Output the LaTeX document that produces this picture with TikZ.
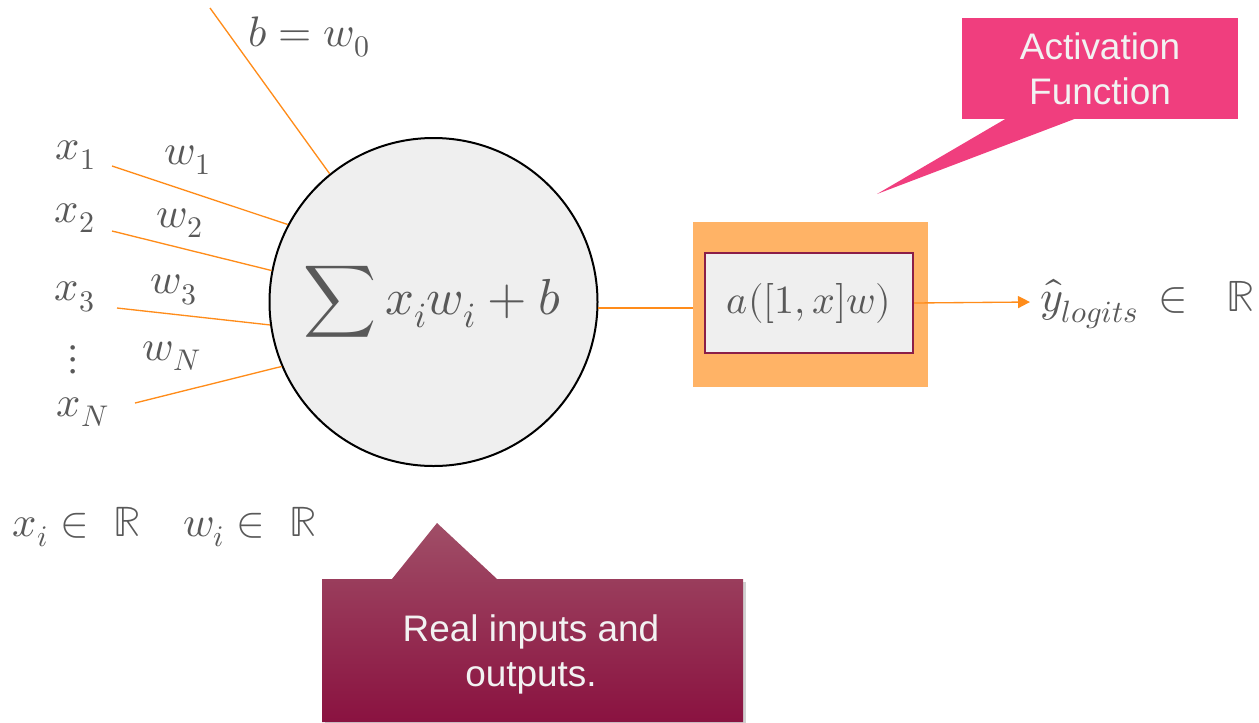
\documentclass[tikz,border=0pt]{standalone}
\usepackage{fontspec}
\usepackage{amsmath}
\usepackage{unicode-math}
\setmathfont{Latin Modern Math}
\usetikzlibrary{arrows.meta,calc}
\newfontfamily\calloutfont{Liberation Sans}
\definecolor{txtgray}{HTML}{595959}
\definecolor{wire}{HTML}{FF8C1A}
\definecolor{boxorange}{HTML}{FFB366}
\definecolor{boxgray}{HTML}{EFEFEF}
\definecolor{boxedge}{HTML}{8B1E48}
\definecolor{callpink}{HTML}{F03E7E}
\definecolor{maroontop}{HTML}{A04E67}
\definecolor{maroonbot}{HTML}{8A1240}
\definecolor{calltext}{HTML}{F2F2F2}
\begin{document}
\begin{tikzpicture}[x=0.75pt,y=-0.75pt,
  lbl/.style={text=txtgray,font=\fontsize{32}{38}\selectfont,inner sep=0pt},
  wireline/.style={draw=wire,line width=1pt},
  calltxt/.style={text=calltext,font=\calloutfont\fontsize{27.7}{33.75}\selectfont,align=center,inner sep=0pt}]
\useasboundingbox (0,0) rectangle (1259,722);

% neuron
\node[circle,draw=black,line width=1.5pt,fill=boxgray,minimum size=246pt,inner sep=0pt] (neuron) at (433.5,302) {};
\node[lbl,font=\fontsize{38}{44}\selectfont] (sum) at (432,302) {$\displaystyle\sum x_i w_i + b$};

% labels
\node[lbl] (b0) at (309,37) {$b = w_0$};
\node[lbl] (x1) at (76,155) {$x_1$};
\node[lbl] (w1) at (188,160) {$w_1$};
\node[lbl] (x2) at (75,218) {$x_2$};
\node[lbl] (w2) at (180,223) {$w_2$};
\node[lbl] (x3) at (75,297) {$x_3$};
\node[lbl] (w3) at (174,290) {$w_3$};
\node[lbl] (dots) at (73,360) {$\vdots$};
\node[lbl] (wN) at (172,356) {$w_N$};
\node[lbl] (xN) at (83,412) {$x_N$};
\node[lbl] (domain) at (165,527) {$x_i \in\ \mathbb{R}\quad w_i \in\ \mathbb{R}$};

% input wires
\coordinate (bstart) at (210,8);
\coordinate (x1start) at (112,166);
\coordinate (x2start) at (112,231);
\coordinate (x3start) at (117,308);
\coordinate (xNstart) at (135,403);
\draw[wireline] (bstart) -- (neuron.129);
\draw[wireline] (x1start) -- (neuron.152);
\draw[wireline] (x2start) -- (neuron.169);
\draw[wireline] (x3start) -- (neuron.188);
\draw[wireline] (xNstart) -- (neuron.203);

% activation boxes
\node[fill=boxorange,minimum width=176pt,minimum height=124pt,inner sep=0pt] (outer) at (810.5,304.5) {};
\node[fill=boxgray,draw=boxedge,line width=1.5pt,minimum width=156pt,minimum height=75pt,inner sep=0pt,
      text=txtgray,font=\fontsize{30}{36}\selectfont] (inner) at (809,303) {$a([1,x]w)$};
\coordinate (outin) at (neuron.358 -| outer.west);
\draw[draw=wire,line width=1.3pt] (neuron.358) -- (outin);

% output
\coordinate (yend) at (1030,302);
\draw[wireline,-{Triangle[length=9pt,width=9pt]}] (inner.east) -- (yend);
\node[lbl,anchor=west,font=\fontsize{33}{38}\selectfont] (yhat) at (1040,304) {$\hat{y}_{logits}\,\in\ \ \mathbb{R}$};

% Activation Function callout
\fill[callpink] (962,18) rectangle (1238,119);
\fill[callpink] (1007,118) -- (877,194) -- (1077,118) -- cycle;
\node[calltxt] (actlabel) at (1100,69) {Activation\\Function};

% Real inputs callout
\fill[black,opacity=0.18] (325,582) rectangle (746,725);
\shade[top color=maroontop,bottom color=maroonbot]
  (322,579) -- (392,579) -- (437,523) -- (497,579) -- (743,579) -- (743,722) -- (322,722) -- cycle;
\node[calltxt] (reallabel) at (531,654) {Real inputs and\\outputs.};
\end{tikzpicture}
\end{document}
